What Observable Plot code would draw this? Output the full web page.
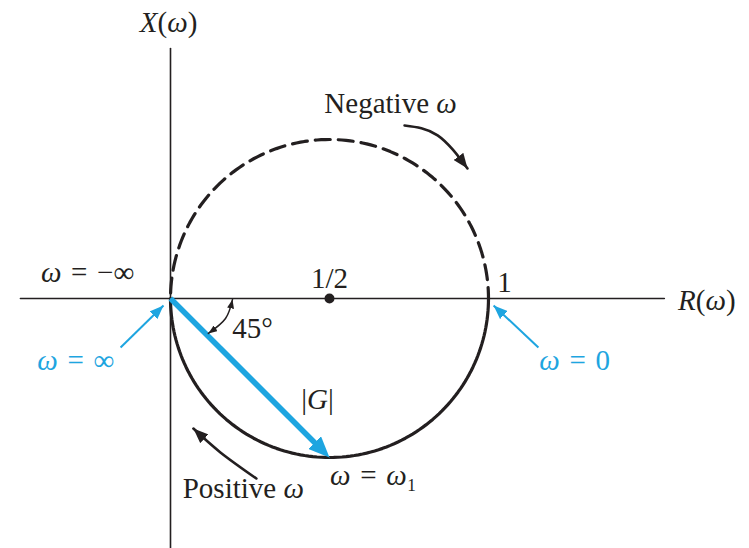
<!DOCTYPE html>
<html><head><meta charset="utf-8">
<script src="https://cdn.jsdelivr.net/npm/d3@7"></script>
<script src="https://cdn.jsdelivr.net/npm/@observablehq/plot@0.6"></script>
<style>body{margin:0;background:#fff}</style>
</head><body><div id="chart"></div>
<script>
// ---- data (plane coordinates: real part R(ω), imaginary part X(ω)) ----
const xDomain = [-0.5346, 1.8208];
const yDomain = [-0.7862, 0.9371];
const realAxis = [[-0.472, 0], [1.553, 0]];
const imagAxis = [[0, 0.786], [0, -0.79]];
// G(jω) = 1/(1 + jω): a circle of centre 1/2 and radius 1/2
const center = [0.5, 0];
const radius = 0.5;
const halfTurnSteps = 120;
const centerPoint = [{x: 0.5, y: 0}];
const gVector = [{x1: 0, y1: 0, x2: 0.5, y2: -0.5}];

const blackLabels = ["X(ω)", "Negative ω", "ω\u2004=\u2004−∞", "1/2", "1", "45°", "|G|", "ω\u2004=\u2004ω₁", "Positive ω"];
const blackLabelX = [-0.006, 0.692, -0.261, 0.5, 1.05, 0.258, 0.462, 0.638, 0.229];
const blackLabelY = [0.868, 0.613, 0.082, 0.063, 0.050, -0.095, -0.318, -0.556, -0.598];
const axisLabelR = {text: "R(ω)", x: 1.596, y: -0.006};
const blueLabels = ["ω\u2004=\u2004∞", "ω\u2004=\u20040"];
const blueLabelX = [-0.298, 1.271];
const blueLabelY = [-0.195, -0.195];

const blueArrows = [
  {x1: -0.157, y1: -0.154, x2: -0.022, y2: -0.022},
  {x1: 1.157, y1: -0.154, x2: 1.016, y2: -0.022}
];
const negativeArrow = [[0.736, 0.544], [0.840, 0.513], [0.934, 0.409]];
const positiveArrow = [[0.270, -0.566], [0.157, -0.484], [0.072, -0.409]];
const angleArc = [[0.195, -0.003], [0.173, -0.063], [0.119, -0.110]];

// ---- build tables ----
const lowerHalf = d3.range(halfTurnSteps + 1).map(i => {
  const t = Math.PI * i / halfTurnSteps;
  return {x: center[0] + radius * Math.cos(t), y: center[1] - radius * Math.sin(t)};
});
const upperHalf = lowerHalf.map(d => ({x: d.x, y: -d.y}));
const blackTable = blackLabels.map((t, i) => ({t, x: blackLabelX[i], y: blackLabelY[i]}));
const blueTable = blueLabels.map((t, i) => ({t, x: blueLabelX[i], y: blueLabelY[i]}));

const blue = "#1ea5e0";
const ink = "#231f20";
const font = "Liberation Serif, Times New Roman, serif";

// filled arrowhead marker
function headMarker(len, wid) {
  return (color) => {
    const m = d3.create("svg:marker")
      .attr("viewBox", `${-len} ${-wid / 2} ${len} ${wid}`)
      .attr("markerWidth", len).attr("markerHeight", wid)
      .attr("refX", 0).attr("refY", 0)
      .attr("markerUnits", "userSpaceOnUse")
      .attr("orient", "auto-start-reverse")
      .attr("fill", color).attr("stroke", "none");
    m.append("path").attr("d", `M0,0L${-len},${-wid / 2}L${-len},${wid / 2}Z`);
    return m.node();
  };
}

const chart = Plot.plot({
  width: 749, height: 548,
  margin: 0,
  x: {domain: xDomain, axis: null},
  y: {domain: yDomain, axis: null},
  style: {fontFamily: font, background: "#fff"},
  marks: [
    Plot.line(realAxis, {x: d => d[0], y: d => d[1], stroke: ink, strokeWidth: 1.6}),
    Plot.line(imagAxis, {x: d => d[0], y: d => d[1], stroke: ink, strokeWidth: 1.6}),
    Plot.line(upperHalf, {x: "x", y: "y", stroke: ink, strokeWidth: 3.2, strokeDasharray: "15,8", strokeDashoffset: 4}),
    Plot.line(lowerHalf, {x: "x", y: "y", stroke: ink, strokeWidth: 3.2}),
    Plot.dot(centerPoint, {x: "x", y: "y", r: 5, fill: ink, stroke: null}),
    Plot.arrow(gVector, {x1: "x1", y1: "y1", x2: "x2", y2: "y2", stroke: blue, strokeWidth: 5.5, headLength: 0, insetEnd: 12, strokeLinecap: "butt"}),
    Plot.link(gVector, {x1: "x1", y1: "y1", x2: "x2", y2: "y2", stroke: blue, strokeWidth: 1, markerEnd: headMarker(21, 18)}),
    Plot.link(blueArrows, {x1: "x1", y1: "y1", x2: "x2", y2: "y2", stroke: blue, strokeWidth: 2, markerEnd: headMarker(14, 11)}),
    Plot.line(negativeArrow, {x: d => d[0], y: d => d[1], curve: "natural", stroke: ink, strokeWidth: 2.6, markerEnd: headMarker(15, 12)}),
    Plot.line(positiveArrow, {x: d => d[0], y: d => d[1], curve: "natural", stroke: ink, strokeWidth: 2.6, markerEnd: headMarker(15, 12)}),
    Plot.line(angleArc, {x: d => d[0], y: d => d[1], curve: "natural", stroke: ink, strokeWidth: 1.5, markerStart: headMarker(9, 7), markerEnd: headMarker(9, 7)}),
    Plot.text(blackTable, {x: "x", y: "y", text: "t", fontSize: 29, fill: ink, fontFamily: font}),
    Plot.text([axisLabelR], {x: "x", y: "y", text: "text", fontSize: 29, fill: ink, textAnchor: "start", fontFamily: font}),
    Plot.text(blueTable, {x: "x", y: "y", text: "t", fontSize: 29, fill: blue, fontFamily: font})
  ]
});

// italicise the mathematical symbols (ω, X, R, G) while keeping the text as text
const italicChars = new Set(["ω", "X", "R", "G"]);
d3.select(chart).selectAll("text").each(function () {
  if (this.querySelector("tspan")) return;
  const s = this.textContent;
  if (![...s].some(c => italicChars.has(c))) return;
  this.textContent = "";
  for (const c of s) {
    const t = d3.select(this).append("tspan").text(c);
    if (italicChars.has(c)) t.attr("font-style", "italic");
  }
});

document.getElementById("chart").appendChild(chart);
</script>
</body></html>
